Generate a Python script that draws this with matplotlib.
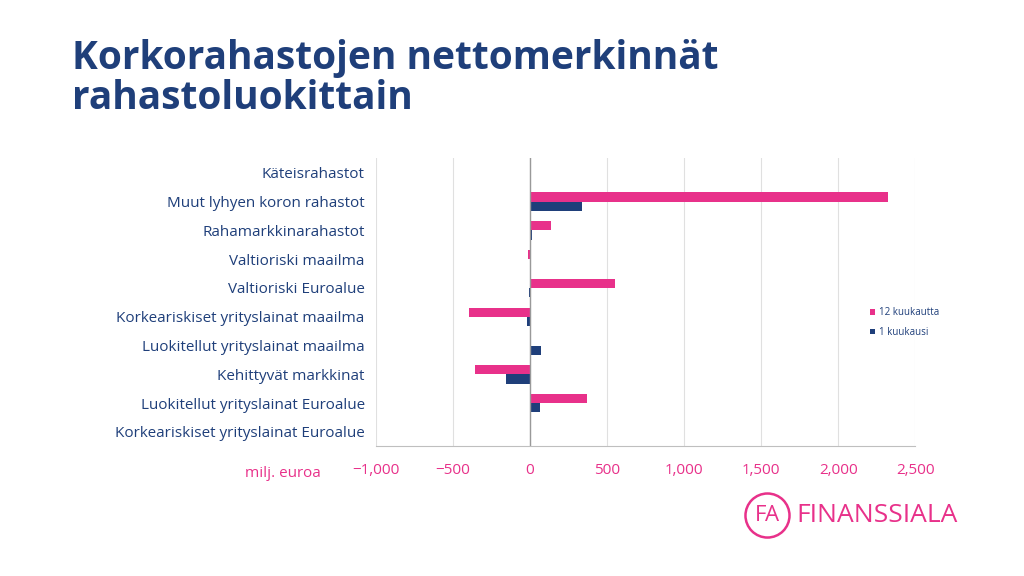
import matplotlib
matplotlib.use("Agg")
import matplotlib.pyplot as plt
import numpy as np
from matplotlib.patches import Ellipse

categories = ["Käteisrahastot", "Muut lyhyen koron rahastot", "Rahamarkkinarahastot",
              "Valtioriski maailma", "Valtioriski Euroalue", "Korkeariskiset yrityslainat maailma",
              "Luokitellut yrityslainat maailma", "Kehittyvät markkinat",
              "Luokitellut yrityslainat Euroalue", "Korkeariskiset yrityslainat Euroalue"]
months12 = [0, 2320, 136, -10, 552, -396, 2, -357, 370, 8]
month1 = [0, 337, 15, 0, -5, -20, 70, -156, 63, 5]
xticks = [-1000, -500, 0, 500, 1000, 1500, 2000, 2500]
xticklabels = ["−1,000", "−500", "0", "500", "1,000", "1,500", "2,000", "2,500"]

PINK = "#E8318A"
BLUE = "#1F3F7A"
FONT = "Open Sans"

fig = plt.figure(figsize=(10.24, 5.76), dpi=100)
ax = fig.add_axes([0.367, 0.225, 0.527, 0.50])
y = np.arange(len(categories))
h = 0.32
ax.barh(y - h/2, months12, height=h, color=PINK, label="12 kuukautta")
ax.barh(y + h/2, month1, height=h, color=BLUE, label="1 kuukausi")
ax.set_ylim(len(categories) - 0.5, -0.5)
ax.set_xlim(-1000, 2500)
ax.set_xticks(xticks)
ax.set_xticklabels(xticklabels, color=PINK, fontsize=11, fontfamily=FONT)
ax.set_yticks(y)
ax.set_yticklabels(categories, color=BLUE, fontsize=11, fontfamily=FONT)
ax.tick_params(length=0, pad=12)
ax.tick_params(axis="y", pad=8)
for s in ax.spines.values():
    s.set_visible(False)
ax.spines["bottom"].set_visible(True)
ax.spines["bottom"].set_color("#BFBFBF")
ax.grid(axis="x", color="#E0E0E0", lw=0.8)
ax.set_axisbelow(True)
ax.axvline(0, color="#999999", lw=1)
leg = ax.legend(loc="center left", bbox_to_anchor=(0.9, 0.43), frameon=False,
                prop={"family": FONT, "size": 7}, handlelength=0.5, handleheight=0.5,
                labelspacing=0.9, handletextpad=0.4)
for t in leg.get_texts():
    t.set_color(BLUE)

fig.text(0.07, 0.795, "Korkorahastojen nettomerkinnät\nrahastoluokittain", color=BLUE,
         fontsize=28, fontweight="bold", fontfamily=FONT, va="bottom", linespacing=1.05)
fig.text(0.313, 0.172, "milj. euroa", color=PINK, fontsize=11, fontfamily=FONT, ha="right")

fig.add_artist(Ellipse((0.7495, 0.105), 0.043, 0.043 * 1024 / 576, transform=fig.transFigure,
                       fill=False, ec=PINK, lw=1.8))
fig.text(0.7495, 0.105, "FA", color=PINK, fontsize=16, fontfamily=FONT, ha="center", va="center")
fig.text(0.778, 0.105, "FINANSSIALA", color=PINK, fontsize=19, fontfamily=FONT, va="center")

fig.savefig("out.png", dpi=100)
